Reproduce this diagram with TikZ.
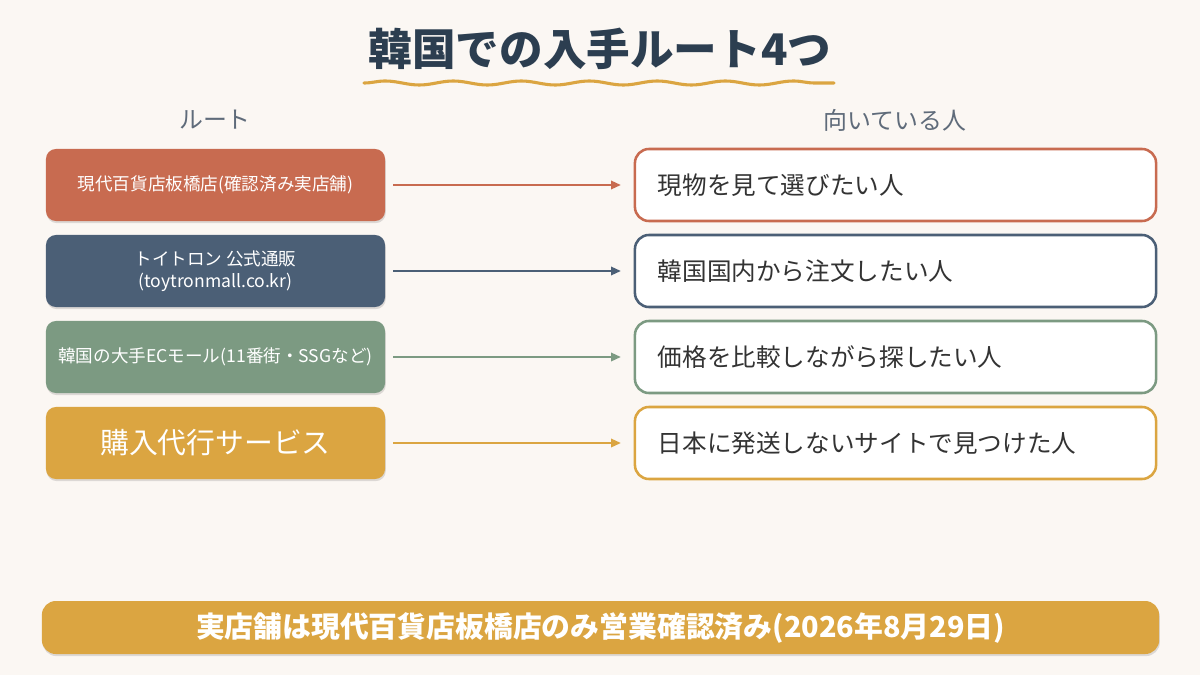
\documentclass[tikz,border=0pt]{standalone}
\usepackage{fontspec}
\setmainfont{Noto Sans CJK JP}
\usepackage{tikz}
\usetikzlibrary{arrows.meta,shadows,decorations.pathmorphing}
\definecolor{paper}{HTML}{FBF7F3}
\definecolor{navy}{HTML}{2C3E50}
\definecolor{headgray}{HTML}{5F6B7A}
\definecolor{terra}{HTML}{C86B50}
\definecolor{slate}{HTML}{4B5F76}
\definecolor{sage}{HTML}{7C9A82}
\definecolor{gold}{HTML}{DBA541}
\definecolor{ink}{HTML}{333333}

\begin{document}
\begin{tikzpicture}[x=0.025cm, y=-0.025cm,
  route/.style={rounded corners=0.25cm, minimum width=8.475cm, minimum height=1.8cm,
    text=white, align=center, font=\fontsize{12.5}{16}\selectfont,
    drop shadow={shadow xshift=0.5pt, shadow yshift=-1.5pt, opacity=0.12, fill=black}},
  who/.style={draw, line width=1.8pt, fill=white, rounded corners=0.35cm,
    minimum width=13.025cm, minimum height=1.8cm, inner xsep=0.575cm,
    text width=11.875cm, align=left, text=ink, font=\fontsize{17.5}{21}\selectfont},
  arr/.style={-{Triangle[length=7pt, width=6pt]}, line width=1.4pt,
    shorten <=0.2cm, shorten >=0.32cm},
  hdr/.style={text=headgray, font=\fontsize{17}{20}\selectfont}
]
  \fill[paper] (0,0) rectangle (1200,675);
  \useasboundingbox (0,0) rectangle (1200,675);

  % title
  \node[text=navy, font=\fontsize{31}{36}\selectfont\bfseries] (title) at (600,49) {韓国での入手ルート4つ};
  \coordinate (wavea) at (364,83);
  \coordinate (waveb) at (834,83);
  \draw[gold, line width=2.2pt, line cap=round,
    decorate, decoration={snake, segment length=1.7cm, amplitude=0.05cm}] (wavea) -- (waveb);

  \node[hdr] (hroute) at (215,120) {ルート};
  \node[hdr] (hwho)   at (895,120) {向いている人};

  % routes
  \node[route, fill=terra] (r1) at (215.5,185) {現代百貨店板橋店(確認済み実店舗)};
  \node[route, fill=slate] (r2) at (215.5,271) {トイトロン 公式通販\\(toytronmall.co.kr)};
  \node[route, fill=sage]  (r3) at (215.5,357) {韓国の大手ECモール(11番街・SSGなど)};
  \node[route, fill=gold, font=\fontsize{20.5}{24}\selectfont] (r4) at (215.5,443) {購入代行サービス};

  % who it suits
  \node[who, draw=terra] (p1) at (895.5,185) {現物を見て選びたい人};
  \node[who, draw=slate] (p2) at (895.5,271) {韓国国内から注文したい人};
  \node[who, draw=sage]  (p3) at (895.5,357) {価格を比較しながら探したい人};
  \node[who, draw=gold]  (p4) at (895.5,443) {日本に発送しないサイトで見つけた人};

  \draw[arr, terra] (r1) -- (p1);
  \draw[arr, slate] (r2) -- (p2);
  \draw[arr, sage]  (r3) -- (p3);
  \draw[arr, gold]  (r4) -- (p4);

  % note
  \node[fill=gold, rounded corners=0.35cm, minimum width=27.925cm, minimum height=1.325cm,
    text=white, font=\fontsize{20.5}{24}\selectfont\bfseries,
    drop shadow={shadow xshift=0.5pt, shadow yshift=-1.5pt, opacity=0.12, fill=black}]
    (note) at (600.5,627.5) {実店舗は現代百貨店板橋店のみ営業確認済み(2026年8月29日)};
\end{tikzpicture}
\end{document}
